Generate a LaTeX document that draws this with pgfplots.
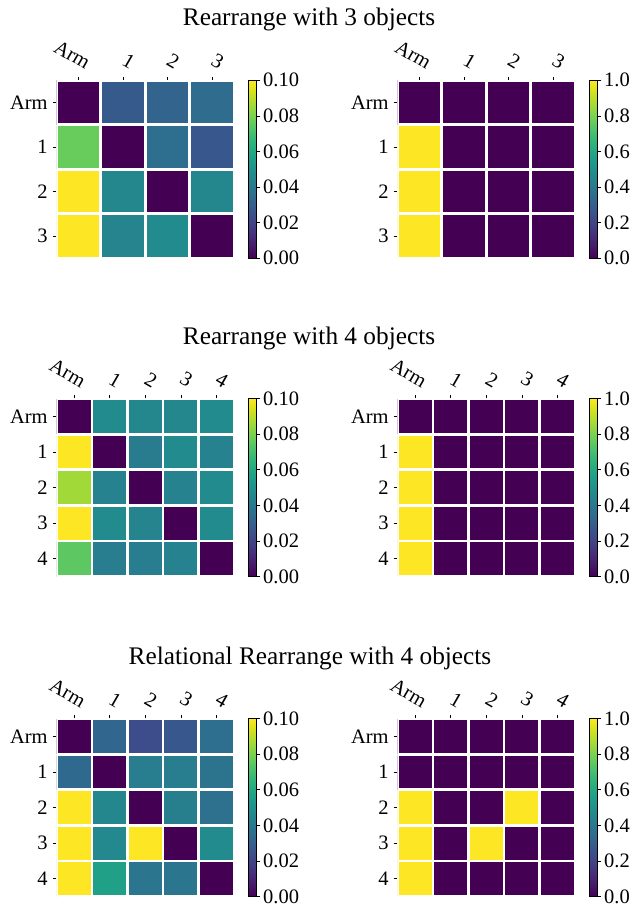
\documentclass[border=0pt]{standalone}
\usepackage{pgfplots}
\pgfplotsset{compat=1.18}
\usepackage{fontspec}
\setmainfont{Liberation Serif}
\pgfkeys{/pgf/number format/assume math mode=true}

\pgfplotstableread{
x y c
0 0 0.100
1 0 0.045
2 0 0.048
3 0 0.000
0 1 0.100
1 1 0.046
2 1 0.000
3 1 0.046
0 2 0.077
1 2 0.000
2 2 0.036
3 2 0.027
0 3 0.000
1 3 0.028
2 3 0.032
3 3 0.035
}\gnnA
\pgfplotstableread{
x y c
0 0 1
1 0 0
2 0 0
3 0 0
0 1 1
1 1 0
2 1 0
3 1 0
0 2 1
1 2 0
2 2 0
3 2 0
0 3 0
1 3 0
2 3 0
3 3 0
}\gtA
\pgfplotstableread{
x y c
0 0 0.075
1 0 0.042
2 0 0.042
3 0 0.044
4 0 0.000
0 1 0.100
1 1 0.048
2 1 0.045
3 1 0.000
4 1 0.048
0 2 0.086
1 2 0.044
2 2 0.000
3 2 0.044
4 2 0.048
0 3 0.100
1 3 0.000
2 3 0.041
3 3 0.048
4 3 0.044
0 4 0.000
1 4 0.048
2 4 0.046
3 4 0.046
4 4 0.048
}\gnnB
\pgfplotstableread{
x y c
0 0 1
1 0 0
2 0 0
3 0 0
4 0 0
0 1 1
1 1 0
2 1 0
3 1 0
4 1 0
0 2 1
1 2 0
2 2 0
3 2 0
4 2 0
0 3 1
1 3 0
2 3 0
3 3 0
4 3 0
0 4 0
1 4 0
2 4 0
3 4 0
4 4 0
}\gtB
\pgfplotstableread{
x y c
0 0 0.100
1 0 0.057
2 0 0.039
3 0 0.039
4 0 0.000
0 1 0.100
1 1 0.047
2 1 0.100
3 1 0.000
4 1 0.048
0 2 0.100
1 2 0.046
2 2 0.000
3 2 0.043
4 2 0.037
0 3 0.034
1 3 0.000
2 3 0.042
3 3 0.042
4 3 0.038
0 4 0.000
1 4 0.033
2 4 0.023
3 4 0.027
4 4 0.036
}\gnnC
\pgfplotstableread{
x y c
0 0 1
1 0 0
2 0 0
3 0 0
4 0 0
0 1 1
1 1 0
2 1 1
3 1 0
4 1 0
0 2 1
1 2 0
2 2 0
3 2 1
4 2 0
0 3 0
1 3 0
2 3 0
3 3 0
4 3 0
0 4 0
1 4 0
2 4 0
3 4 0
4 4 0
}\gtC

\newcommand{\tickfont}{\fontsize{20.5bp}{22bp}\selectfont}
\pgfplotsset{
  hm/.style={
    scale only axis, width=178bp, height=178bp,
    anchor=north west,
    enlargelimits=false,
    xmin=-0.5, xmax=#1-0.5, ymin=-0.5, ymax=#1-0.5,
    axis line style={draw=none},
    tick align=outside,
    major tick length=3.5bp,
    tick style={black, line width=0.6bp},
    xtick pos=right, xticklabel pos=right,
    ytick pos=left,
    xtick={0,...,#1}, ytick={0,...,#1},
    tick label style={font=\tickfont},
    xticklabel style={rotate=-30, anchor=south east, inner sep=0pt, xshift=2.5bp, yshift=9bp},
    yticklabel style={inner sep=5bp},
    colormap name=viridis,
    colorbar,
  },
  cb/.style={
    colorbar style={
      at={(parent axis.north east)}, anchor=north west, xshift=5.2bp,
      width=8.5bp,
      axis line style={black, line width=0.6bp},
      tick align=outside, major tick length=3.5bp,
      tick style={black, line width=0.6bp},
      ytick pos=right, yticklabel pos=right,
      yticklabel style={font=\tickfont, inner sep=3bp,
        /pgf/number format/.cd, fixed, fixed zerofill, precision=#1},
    },
  },
  cell/.style={matrix plot*, shader=faceted, faceted color=white, line width=2.7bp,
    mesh/cols=#1, mesh/rows=#1, point meta=explicit},
}

\begin{document}
\begin{tikzpicture}
\path[use as bounding box] (0,0) rectangle (631bp,923bp);

\node[anchor=base, font=\fontsize{25.3bp}{28bp}\selectfont] at (309bp,897bp) {Rearrange with 3 objects};
\node[anchor=base, font=\fontsize{25.3bp}{28bp}\selectfont] at (309bp,578bp) {Rearrange with 4 objects};
\node[anchor=base, font=\fontsize{25.3bp}{28bp}\selectfont] at (310bp,258bp) {Relational Rearrange with 4 objects};

% Row 1
\begin{axis}[hm=4, at={(56.3bp,842.7bp)}, xticklabels={Arm,1,2,3}, yticklabels={3,2,1,Arm},
  point meta min=0, point meta max=0.1, cb=2,
  colorbar style={ytick={0,0.02,0.04,0.06,0.08,0.1}}]
\addplot[cell=4] table[meta=c] {\gnnA};
\node[anchor=base, font=\fontsize{17bp}{20bp}\selectfont] at (rel axis cs:0.5,0) [yshift=-21bp] {Recurrent GNN};
\end{axis}
\begin{axis}[hm=4, at={(397.3bp,842.7bp)}, xticklabels={Arm,1,2,3}, yticklabels={3,2,1,Arm},
  point meta min=0, point meta max=1, cb=1,
  colorbar style={ytick={0,0.2,0.4,0.6,0.8,1}}]
\addplot[cell=4] table[meta=c] {\gtA};
\node[anchor=base, font=\fontsize{17bp}{20bp}\selectfont] at (rel axis cs:0.5,0) [yshift=-21bp] {GT};
\end{axis}

% Row 2
\begin{axis}[hm=5, at={(56.3bp,524.4bp)}, xticklabels={Arm,1,2,3,4}, yticklabels={4,3,2,1,Arm},
  point meta min=0, point meta max=0.1, cb=2,
  colorbar style={ytick={0,0.02,0.04,0.06,0.08,0.1}}]
\addplot[cell=5] table[meta=c] {\gnnB};
\node[anchor=base, font=\fontsize{17bp}{20bp}\selectfont] at (rel axis cs:0.5,0) [yshift=-21bp] {Recurrent GNN};
\end{axis}
\begin{axis}[hm=5, at={(397.3bp,524.4bp)}, xticklabels={Arm,1,2,3,4}, yticklabels={4,3,2,1,Arm},
  point meta min=0, point meta max=1, cb=1,
  colorbar style={ytick={0,0.2,0.4,0.6,0.8,1}}]
\addplot[cell=5] table[meta=c] {\gtB};
\node[anchor=base, font=\fontsize{17bp}{20bp}\selectfont] at (rel axis cs:0.5,0) [yshift=-21bp] {GT};
\end{axis}

% Row 3
\begin{axis}[hm=5, at={(56.3bp,204.4bp)}, xticklabels={Arm,1,2,3,4}, yticklabels={4,3,2,1,Arm},
  point meta min=0, point meta max=0.1, cb=2,
  colorbar style={ytick={0,0.02,0.04,0.06,0.08,0.1}}]
\addplot[cell=5] table[meta=c] {\gnnC};
\node[anchor=base, font=\fontsize{17bp}{20bp}\selectfont] at (rel axis cs:0.5,0) [yshift=-21bp] {Recurrent GNN};
\end{axis}
\begin{axis}[hm=5, at={(397.3bp,204.4bp)}, xticklabels={Arm,1,2,3,4}, yticklabels={4,3,2,1,Arm},
  point meta min=0, point meta max=1, cb=1,
  colorbar style={ytick={0,0.2,0.4,0.6,0.8,1}}]
\addplot[cell=5] table[meta=c] {\gtC};
\node[anchor=base, font=\fontsize{17bp}{20bp}\selectfont] at (rel axis cs:0.5,0) [yshift=-21bp] {GT};
\end{axis}
\end{tikzpicture}
\end{document}
